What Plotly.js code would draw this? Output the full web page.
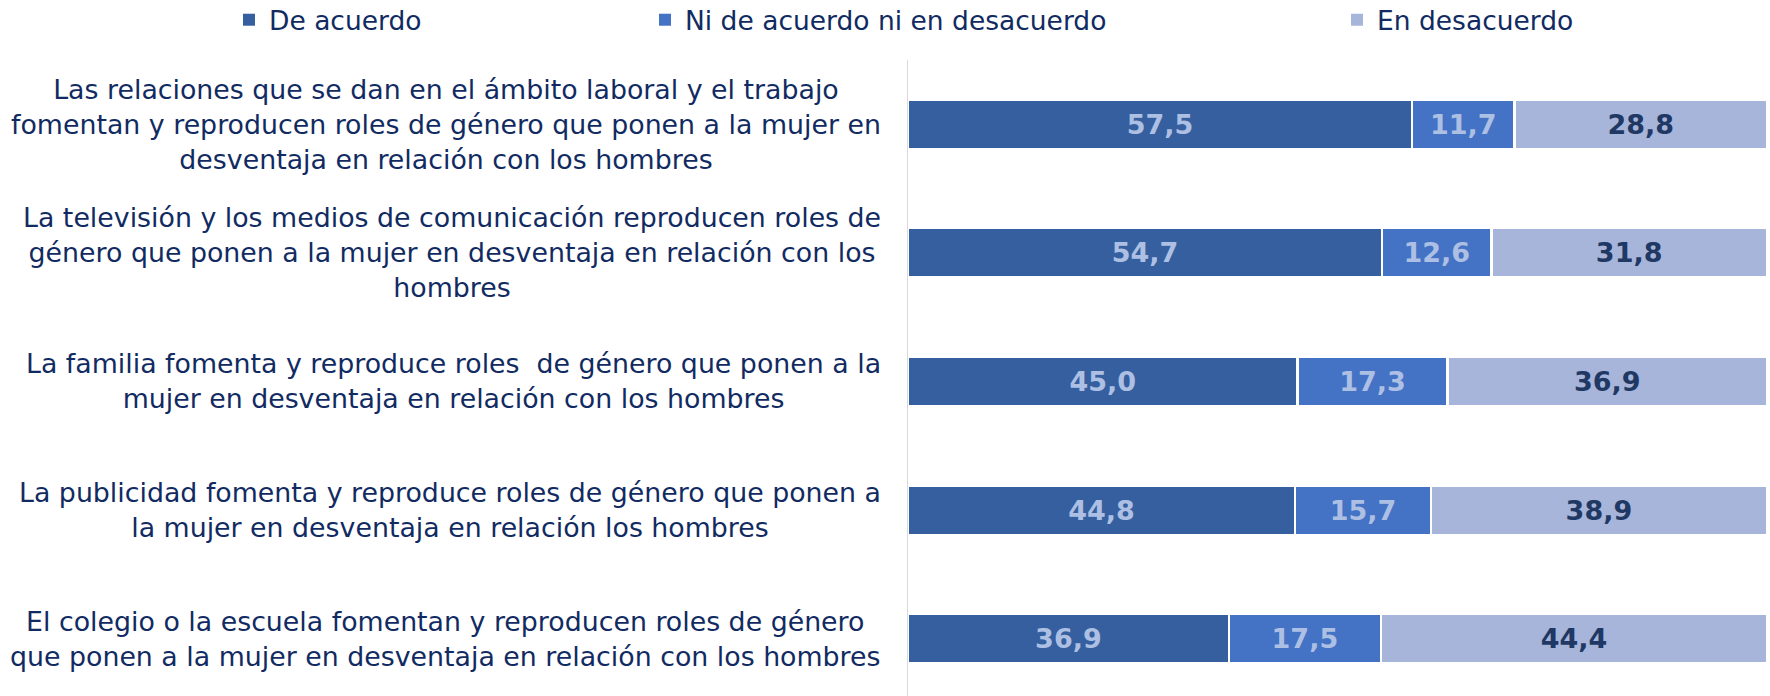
<!DOCTYPE html>
<html>
<head>
<meta charset="utf-8">
<script src="https://cdn.plot.ly/plotly-3.0.1.min.js"></script>
<style>html,body{margin:0;padding:0;background:#fff;}#chart{width:1770px;height:696px;}</style>
</head>
<body>
<div id="chart"></div>
<script>
// Category labels (as wrapped in the original), top to bottom
const labelLines = [
  ["Las relaciones que se dan en el ámbito laboral y el trabajo", "fomentan y reproducen roles de género que ponen a la mujer en", "desventaja en relación con los hombres"],
  ["La televisión y los medios de comunicación reproducen roles de", "género que ponen a la mujer en desventaja en relación con los", "hombres"],
  ["La familia fomenta y reproduce roles  de género que ponen a la", "mujer en desventaja en relación con los hombres"],
  ["La publicidad fomenta y reproduce roles de género que ponen a", "la mujer en desventaja en relación los hombres"],
  ["El colegio o la escuela fomentan y reproducen roles de género", "que ponen a la mujer en desventaja en relación con los hombres"]
];
const seriesNames = ["De acuerdo", "Ni de acuerdo ni en desacuerdo", "En desacuerdo"];
const deAcuerdo = [57.5, 54.7, 45.0, 44.8, 36.9];
const niDeAcuerdo = [11.7, 12.6, 17.3, 15.7, 17.5];
const enDesacuerdo = [28.8, 31.8, 36.9, 38.9, 44.4];

const categories = labelLines.map(l => l.join(" "));
const colors = ["#365f9f", "#4472c4", "#a7b5da"];
const textColors = ["#adc0e4", "#adc0e4", "#1f3864"];
const seriesValues = [deAcuerdo, niDeAcuerdo, enDesacuerdo];
const FONT = "DejaVu Sans, Verdana, sans-serif";
const NAVY = "#112b62";

const W = 1770, H = 696;
const mL = 908, mR = 3, mT = 60, mB = 0;
const plotW = W - mL - mR;
const legendX = [229, 645, 1337];
const legendKeys = ["legend", "legend2", "legend3"];

// data traces (legend entries are drawn by the matching legend-only traces below)
const traces = seriesValues.map((vals, i) => ({
  type: "bar",
  orientation: "h",
  name: seriesNames[i],
  x: vals,
  y: categories,
  text: vals.map(v => v.toFixed(1).replace(".", ",")),
  textposition: "inside",
  insidetextanchor: "middle",
  constraintext: "none",
  textangle: 0,
  textfont: {family: FONT, size: 27, weight: "bold", color: textColors[i]},
  marker: {color: colors[i], line: {color: "#ffffff", width: 2.5}},
  hoverinfo: "skip",
  showlegend: false
}));
seriesNames.forEach((name, i) => traces.push({
  type: "bar",
  orientation: "h",
  name: name,
  x: [null],
  y: [categories[0]],
  marker: {color: colors[i], line: {width: 0}},
  hoverinfo: "skip",
  showlegend: true,
  legend: legendKeys[i]
}));

function legendAt(px) {
  return {
    orientation: "h",
    xref: "container", yref: "container",
    x: px / W, y: 1 - 20 / H,
    xanchor: "left", yanchor: "middle",
    font: {family: FONT, size: 26.5, color: NAVY},
    bgcolor: "rgba(0,0,0,0)", borderwidth: 0,
    itemclick: false, itemdoubleclick: false
  };
}

const annotations = labelLines.map((lines, i) => ({
  xref: "paper", yref: "y",
  x: (883 - mL) / plotW, y: categories[i],
  xanchor: "right", yanchor: "middle",
  align: "center",
  text: lines.join("<br>"),
  showarrow: false,
  font: {family: FONT, size: 26.8, color: NAVY}
}));

const layout = {
  width: W, height: H,
  margin: {l: mL, r: mR, t: mT, b: mB, pad: 0},
  paper_bgcolor: "#ffffff", plot_bgcolor: "#ffffff",
  barmode: "stack",
  barnorm: "percent",
  bargap: 0.615,
  showlegend: true,
  legend: legendAt(legendX[0]),
  legend2: legendAt(legendX[1]),
  legend3: legendAt(legendX[2]),
  xaxis: {range: [0, 100], visible: false, fixedrange: true},
  yaxis: {
    type: "category",
    categoryarray: categories,
    range: [4.446, -0.5],
    showticklabels: false,
    ticks: "",
    showgrid: false,
    zeroline: false,
    showline: true,
    linecolor: "#d9d9d9",
    linewidth: 1.5,
    fixedrange: true
  },
  annotations: annotations,
  font: {family: FONT, color: NAVY}
};

Plotly.newPlot("chart", traces, layout, {displayModeBar: false, staticPlot: true});
</script>
</body>
</html>
